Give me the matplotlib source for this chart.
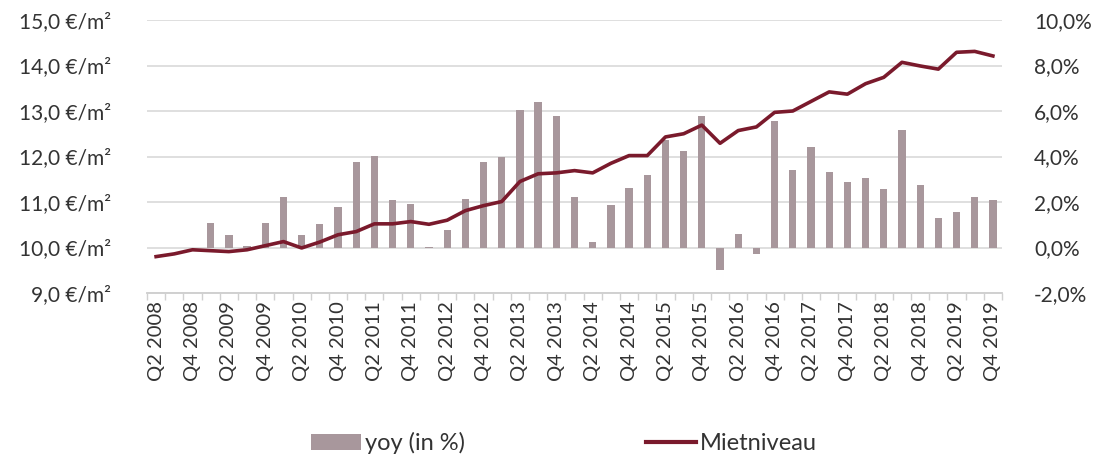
import numpy as np
import matplotlib
matplotlib.use("Agg")
import matplotlib.pyplot as plt
from matplotlib.patches import Patch
from matplotlib.lines import Line2D

plt.rcParams['font.family'] = ['Lato', 'DejaVu Sans']

# quarters Q2 2008 .. Q4 2019
quarters = []
for year in range(2008, 2020):
    for q in range(1, 5):
        if year == 2008 and q == 1:
            continue
        quarters.append(f"Q{q} {year}")

# year on year change in %, none for the first three quarters
yoy = [np.nan, np.nan, np.nan, 1.07, 0.54, 0.07, 1.07, 2.24, 0.55, 1.04,
       1.79, 3.78, 4.03, 2.07, 1.91, 0.03, 0.75, 2.13, 3.75, 3.97,
       6.04, 6.40, 5.79, 2.23, 0.25, 1.85, 2.62, 3.19, 4.73, 4.22,
       5.79, -0.98, 0.60, -0.29, 5.58, 3.42, 4.40, 3.34, 2.87, 3.06,
       2.57, 5.16, 2.74, 1.31, 1.56, 2.24, 2.07]

# rent level in EUR/m2
miete = [9.80, 9.86, 9.95, 9.93, 9.91, 9.95, 10.04, 10.13, 9.99, 10.12,
         10.28, 10.35, 10.52, 10.52, 10.57, 10.51, 10.60, 10.81, 10.92, 11.01,
         11.45, 11.62, 11.64, 11.69, 11.64, 11.85, 12.02, 12.02, 12.43, 12.50,
         12.69, 12.29, 12.57, 12.65, 12.97, 13.00, 13.21, 13.42, 13.37, 13.60,
         13.74, 14.07, 13.99, 13.92, 14.29, 14.31, 14.21]

bar_color = '#a8979c'
line_color = '#7a1a2c'
text_color = '#333333'
fs = 15

x = np.arange(len(quarters))

fig = plt.figure(figsize=(10.94, 4.62), dpi=100)
ax = fig.add_axes([147/1094, 1 - 293/462, 855/1094, 273/462])
ax2 = ax.twinx()

# bars on the right axis, grid behind them
ax2.bar(x, yoy, width=0.4, color=bar_color, zorder=2)
ax2.set_ylim(-2, 10)
ax2.set_yticks(np.arange(-2, 11, 2))
ax2.set_yticklabels([f"{v:.1f}%".replace('.', ',') for v in np.arange(-2, 11, 2)])
ax2.yaxis.grid(True, color='#d9d9d9', linewidth=1.2, zorder=0)
ax2.set_axisbelow(True)

# line on the left axis, drawn on top
ax.set_zorder(ax2.get_zorder() + 1)
ax.patch.set_visible(False)
ax.plot(x, miete, color=line_color, linewidth=2.6, zorder=3)
ax.set_ylim(9, 15)
ax.set_yticks(np.arange(9, 16, 1))
ax.set_yticklabels([f"{v:.1f} €/m²".replace('.', ',') for v in np.arange(9, 16, 1)])

ax.set_xlim(-0.5, len(quarters) - 0.5)
shown = [i for i, q in enumerate(quarters) if q[:2] in ('Q2', 'Q4')]
ax.set_xticks(shown)
ax.set_xticklabels([quarters[i] for i in shown], rotation=90)
ax.set_xticks(np.arange(-0.5, len(quarters), 1), minor=True)
ax.tick_params(axis='x', which='major', length=0, pad=6, labelsize=14.5, labelcolor=text_color)
ax.tick_params(axis='x', which='minor', length=5, color='#d0d0d0', width=1)
ax.tick_params(axis='y', length=0, pad=26, labelsize=fs, labelcolor=text_color)
ax2.tick_params(axis='y', length=0, pad=23, labelsize=fs, labelcolor=text_color)

for a in (ax, ax2):
    for s in ('top', 'right', 'left'):
        a.spines[s].set_visible(False)
    a.spines['bottom'].set_color('#d0d0d0')
    a.spines['bottom'].set_linewidth(1.2)

handles = [Patch(facecolor=bar_color, edgecolor='none', label='yoy (in %)'),
           Line2D([0], [0], color=line_color, linewidth=3, label='Mietniveau')]
fig.legend(handles=handles, loc='center', bbox_to_anchor=(564/1094, 1 - 443/462),
           ncol=2, frameon=False, fontsize=17, handlelength=2.1, handleheight=0.7,
           columnspacing=7.7, handletextpad=0.15, labelcolor=text_color)

fig.savefig('out.png', dpi=100)
